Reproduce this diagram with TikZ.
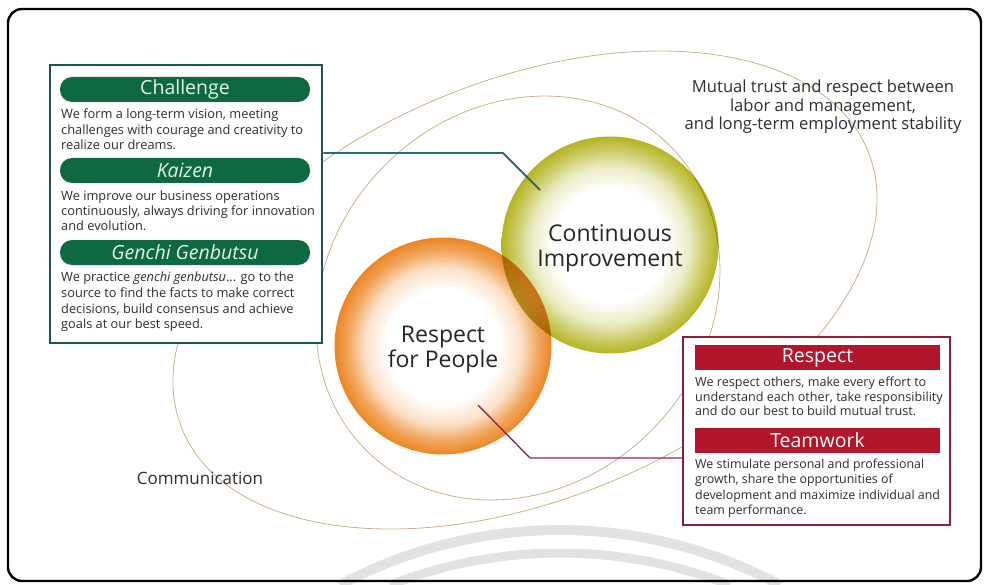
\documentclass[tikz,border=0pt]{standalone}
\usepackage{fontspec}
\setsansfont{Open Sans}
\usepackage{tikz}

\definecolor{tgreen}{RGB}{14,104,64}
\definecolor{tgreenline}{RGB}{24,88,70}
\definecolor{tpale}{RGB}{226,244,232}
\definecolor{tteal}{RGB}{40,108,118}
\definecolor{tred}{RGB}{178,22,44}
\definecolor{tredline}{RGB}{140,30,62}
\definecolor{trpline}{RGB}{150,40,80}
\definecolor{tbody}{RGB}{45,45,50}
\definecolor{tloop}{RGB}{205,175,135}
\definecolor{ciyel}{RGB}{180,180,34}
\definecolor{rpora}{RGB}{236,134,36}
\definecolor{arcgray}{RGB}{226,226,226}

% soft rims for the two circles
\pgfdeclareradialshading{ciball}{\pgfpoint{0bp}{0bp}}{color(0bp)=(white); color(13bp)=(white); color(18bp)=(ciyel!25); color(22bp)=(ciyel!70); color(25bp)=(ciyel); color(50bp)=(ciyel)}
\pgfdeclareradialshading{rpball}{\pgfpoint{0bp}{0bp}}{color(0bp)=(white); color(13bp)=(white); color(18bp)=(rpora!25); color(22bp)=(rpora!75); color(25bp)=(rpora); color(50bp)=(rpora)}

\tikzstyle{pill}     = [rounded corners=12pt, fill=tgreen, text=tpale, minimum width=250pt, minimum height=25pt, inner sep=0pt, font=\sffamily\fontsize{19.5}{19.5}\selectfont]
\tikzstyle{bar}      = [fill=tred, text=white, minimum width=245pt, minimum height=25pt, inner sep=0pt, font=\sffamily\fontsize{19.5}{19.5}\selectfont]
\tikzstyle{frame}    = [fill=white, inner sep=0pt]
\tikzstyle{ball}     = [circle, minimum size=217pt, inner sep=0pt, shade]
\tikzstyle{balltext} = [align=center, inner sep=0pt, text=black!85, font=\sffamily\fontsize{23}{25}\selectfont]

\begin{document}
\begin{tikzpicture}[x=1pt,y=-1pt,font=\sffamily,
		body/.style={anchor=north west, inner sep=0pt, align=left, text=tbody, font=\sffamily\fontsize{12.8}{15.5}\selectfont},
		loop/.style={draw=tloop, line width=0.8pt},
	]

	\useasboundingbox (0,0) rectangle (984,585);

	% faint arcs along the bottom edge
	\draw[arcgray, line width=10pt] (560,997) ++(-118.1:467) arc[start angle=-118.1, end angle=-61.9, radius=467];
	\draw[arcgray, line width=9pt] (560,1021) ++(-111.3:468) arc[start angle=-111.3, end angle=-68.7, radius=468];

	\draw[line width=2.4pt, rounded corners=14pt] (8,9) rectangle (981,581);

	% the two loops round the circles
	\begin{scope}[shift={(525,290)}, rotate=22]
		\draw[loop] (0,0) ellipse [x radius=370, y radius=210];
	\end{scope}
	\begin{scope}[shift={(518,298)}, rotate=45]
		\draw[loop] (0,0) ellipse [x radius=215, y radius=188];
	\end{scope}

	\node[ball, shading=rpball] (rp) at (443,346) {};
	\begin{scope}[blend mode=multiply]
		\node[ball, shading=ciball] (ci) at (610,245) {};
	\end{scope}
	\node[balltext] (rptext) at (443,350) {Respect\\for People};
	\node[balltext] (citext) at (610,248) {Continuous\\Improvement};

	\node[align=center, text=tbody, font=\sffamily\fontsize{16.6}{18.5}\selectfont] (mutual) at (823,107) {Mutual trust and respect between\\labor and management,\\and long-term employment stability};
	\node[text=tbody, font=\sffamily\fontsize{17}{18}\selectfont] (comm) at (200,478) {Communication};

	% green box
	\node[frame, draw=tgreenline, line width=2.6pt, minimum width=272pt, minimum height=278pt] (greenbox) at (186,204) {};
	\node[pill] (challenge) at (185,89.5) {Challenge};
	\node[body] (challengetext) at (61,108.7) {We form a long-term vision, meeting\\challenges with courage and creativity to\\realize our dreams.};
	\node[pill] (kaizen) at (185,170.5) {\itshape Kaizen};
	\node[body, font=\sffamily\fontsize{12.8}{15}\selectfont] (kaizentext) at (61,190.7) {We improve our business operations\\continuously, always driving for innovation\\and evolution.};
	\node[pill] (genchi) at (185,252.5) {\itshape Genchi Genbutsu};
	\node[body, font=\sffamily\fontsize{12.8}{15.7}\selectfont] (genchitext) at (61,271.7) {We practice \textit{genchi genbutsu}... go to the\\source to find the facts to make correct\\decisions, build consensus and achieve\\goals at our best speed.};

	% red box
	\node[frame, draw=tredline, line width=2.2pt, minimum width=267pt, minimum height=188pt] (redbox) at (816.5,431) {};
	\node[bar] (respect) at (817.5,357.5) {Respect};
	\node[body, font=\sffamily\fontsize{12.6}{14.5}\selectfont] (respecttext) at (695,376.8) {We respect others, make every effort to\\understand each other, take responsibility\\and do our best to build mutual trust.};
	\node[bar] (teamwork) at (817.5,440) {Teamwork};
	\node[body, font=\sffamily\fontsize{12.4}{15.3}\selectfont] (teamworktext) at (695,459) {We stimulate personal and professional\\growth, share the opportunities of\\development and maximize individual and\\team performance.};

	% leader lines into the circles
	\coordinate (cibend) at (503,153);
	\coordinate (cidot) at (540,190);
	\draw[tteal, line width=1.8pt] (greenbox.east |- cibend) -- (cibend) -- (cidot);
	\coordinate (rpdot) at (478,405);
	\coordinate (rpbend) at (530,458);
	\draw[trpline, line width=1.4pt] (rpdot) -- (rpbend) -- (rpbend -| redbox.west);
\end{tikzpicture}
\end{document}
